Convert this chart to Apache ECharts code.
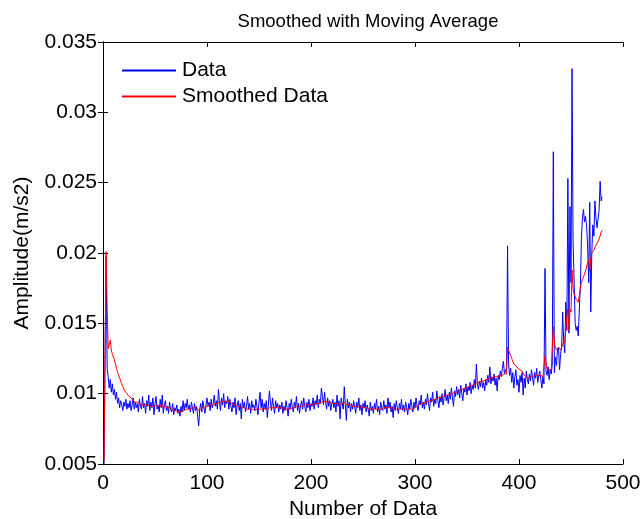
<!DOCTYPE html>
<html>
<head>
<meta charset="utf-8">
<script src="https://cdn.jsdelivr.net/npm/echarts@6/dist/echarts.min.js"></script>
<style>html,body{margin:0;padding:0;background:#fff;}#c{width:644px;height:519px;}</style>
</head>
<body>
<div id="c"></div>
<script>
var titleText = 'Smoothed with Moving Average';
var xName = 'Number of Data';
var yName = 'Amplitude(m/s2)';
var seriesNames = ['Data', 'Smoothed Data'];
var xTicks = [0, 100, 200, 300, 400, 500];
var yTicks = ['0.005', '0.01', '0.015', '0.02', '0.025', '0.03', '0.035'];

var rawData = [
0.0050,0.0128,0.0198,0.0118,0.0112,0.0104,0.0110,0.0101,0.0107,0.0099,
0.0103,0.0096,0.0101,0.0093,0.0097,0.0090,0.0095,0.0092,0.0088,0.0094,
0.0091,0.0096,0.0089,0.0093,0.0090,0.0095,0.0088,0.0092,0.0097,0.0089,
0.0094,0.0090,0.0093,0.0087,0.0096,0.0091,0.0089,0.0098,0.0090,0.0093,
0.0086,0.0095,0.0091,0.0099,0.0088,0.0094,0.0090,0.0097,0.0085,0.0093,
0.0098,0.0089,0.0092,0.0087,0.0096,0.0090,0.0099,0.0086,0.0092,0.0095,
0.0088,0.0091,0.0086,0.0094,0.0089,0.0087,0.0093,0.0085,0.0090,0.0088,
0.0092,0.0086,0.0089,0.0084,0.0091,0.0087,0.0095,0.0088,0.0093,0.0090,
0.0096,0.0089,0.0092,0.0087,0.0094,0.0090,0.0086,0.0093,0.0088,0.0091,
0.0084,0.0077,0.0089,0.0093,0.0087,0.0095,0.0090,0.0086,0.0092,0.0097,
0.0091,0.0094,0.0088,0.0096,0.0090,0.0093,0.0099,0.0091,0.0095,0.0089,
0.0103,0.0094,0.0088,0.0097,0.0092,0.0100,0.0090,0.0095,0.0093,0.0098,
0.0089,0.0096,0.0091,0.0087,0.0094,0.0090,0.0097,0.0085,0.0092,0.0095,
0.0088,0.0093,0.0082,0.0096,0.0090,0.0094,0.0087,0.0091,0.0098,0.0089,
0.0093,0.0086,0.0095,0.0090,0.0092,0.0088,0.0096,0.0091,0.0085,0.0094,
0.0101,0.0090,0.0096,0.0087,0.0093,0.0089,0.0095,0.0083,0.0092,0.0102,
0.0094,0.0088,0.0097,0.0091,0.0086,0.0095,0.0090,0.0093,0.0087,0.0092,
0.0089,0.0094,0.0086,0.0091,0.0088,0.0095,0.0090,0.0084,0.0093,0.0089,
0.0096,0.0091,0.0087,0.0094,0.0090,0.0098,0.0088,0.0093,0.0086,0.0092,
0.0095,0.0089,0.0097,0.0091,0.0087,0.0094,0.0090,0.0096,0.0088,0.0093,
0.0091,0.0097,0.0089,0.0095,0.0092,0.0099,0.0090,0.0096,0.0093,0.0104,
0.0098,0.0092,0.0101,0.0094,0.0089,0.0097,0.0091,0.0095,0.0088,0.0093,
0.0096,0.0090,0.0094,0.0087,0.0099,0.0091,0.0095,0.0082,0.0097,0.0093,
0.0089,0.0105,0.0092,0.0081,0.0096,0.0090,0.0094,0.0087,0.0093,0.0089,
0.0095,0.0091,0.0086,0.0094,0.0090,0.0097,0.0088,0.0092,0.0085,0.0093,
0.0090,0.0095,0.0087,0.0092,0.0089,0.0084,0.0094,0.0088,0.0091,0.0086,
0.0093,0.0089,0.0096,0.0087,0.0091,0.0085,0.0094,0.0090,0.0088,0.0095,
0.0089,0.0092,0.0086,0.0097,0.0090,0.0094,0.0087,0.0091,0.0083,0.0093,
0.0088,0.0095,0.0090,0.0086,0.0093,0.0089,0.0096,0.0088,0.0092,0.0087,
0.0094,0.0090,0.0085,0.0093,0.0089,0.0096,0.0091,0.0087,0.0094,0.0090,
0.0097,0.0091,0.0088,0.0095,0.0092,0.0099,0.0090,0.0094,0.0089,0.0096,
0.0092,0.0100,0.0093,0.0088,0.0097,0.0094,0.0101,0.0091,0.0096,0.0093,
0.0102,0.0095,0.0090,0.0098,0.0094,0.0100,0.0092,0.0097,0.0103,0.0095,
0.0099,0.0093,0.0101,0.0096,0.0104,0.0097,0.0091,0.0102,0.0098,0.0105,
0.0099,0.0103,0.0097,0.0106,0.0100,0.0095,0.0104,0.0101,0.0107,0.0099,
0.0105,0.0102,0.0108,0.0100,0.0106,0.0103,0.0110,0.0104,0.0121,0.0107,
0.0103,0.0109,0.0105,0.0111,0.0104,0.0108,0.0102,0.0110,0.0106,0.0113,
0.0108,0.0119,0.0107,0.0112,0.0109,0.0114,0.0106,0.0111,0.0102,0.0113,
0.0110,0.0116,0.0112,0.0118,0.0123,0.0114,0.0117,0.0115,0.0205,0.0121,
0.0113,0.0118,0.0108,0.0115,0.0104,0.0112,0.0117,0.0106,0.0110,0.0101,
0.0113,0.0108,0.0115,0.0099,0.0111,0.0104,0.0116,0.0110,0.0107,0.0114,
0.0109,0.0117,0.0112,0.0106,0.0115,0.0111,0.0118,0.0108,0.0113,0.0116,
0.0110,0.0104,0.0112,0.0107,0.0189,0.0116,0.0113,0.0119,0.0110,0.0117,
0.0114,0.0121,0.0272,0.0115,0.0126,0.0120,0.0131,0.0133,0.0117,0.0128,
0.0133,0.0158,0.0136,0.0129,0.0165,0.0145,0.0253,0.0143,0.0233,0.0179,
0.0331,0.0207,0.0180,0.0150,0.0145,0.0148,0.0141,0.0160,0.0176,0.0210,
0.0225,0.0231,0.0222,0.0226,0.0219,0.0205,0.0179,0.0236,0.0158,0.0200,
0.0220,0.0212,0.0237,0.0225,0.0218,0.0224,0.0230,0.0251,0.0237,0.0240
];

var smoothData = [
0.0052,0.0130,0.0201,0.0160,0.0132,0.0135,0.0138,0.0131,0.0128,0.0126,
0.0124,0.0121,0.0118,0.0115,0.0113,0.0111,0.0109,0.0107,0.0105,0.0104,
0.0102,0.0101,0.0100,0.0099,0.0098,0.0097,0.0097,0.0096,0.0095,0.0095,
0.0094,0.0094,0.0094,0.0093,0.0093,0.0093,0.0092,0.0093,0.0092,0.0092,
0.0092,0.0091,0.0092,0.0092,0.0091,0.0092,0.0091,0.0092,0.0091,0.0091,
0.0092,0.0091,0.0091,0.0090,0.0091,0.0091,0.0092,0.0090,0.0090,0.0091,
0.0090,0.0090,0.0089,0.0090,0.0089,0.0089,0.0089,0.0088,0.0088,0.0088,
0.0088,0.0087,0.0087,0.0087,0.0087,0.0087,0.0088,0.0088,0.0088,0.0089,
0.0089,0.0089,0.0090,0.0089,0.0090,0.0090,0.0089,0.0090,0.0090,0.0090,
0.0089,0.0088,0.0088,0.0089,0.0089,0.0090,0.0090,0.0090,0.0091,0.0091,
0.0091,0.0092,0.0091,0.0092,0.0092,0.0092,0.0093,0.0093,0.0093,0.0093,
0.0094,0.0094,0.0093,0.0094,0.0094,0.0095,0.0094,0.0094,0.0094,0.0095,
0.0094,0.0094,0.0093,0.0093,0.0093,0.0092,0.0092,0.0092,0.0091,0.0091,
0.0091,0.0091,0.0090,0.0090,0.0090,0.0090,0.0089,0.0089,0.0090,0.0089,
0.0089,0.0089,0.0089,0.0089,0.0089,0.0088,0.0089,0.0089,0.0088,0.0089,
0.0090,0.0089,0.0090,0.0089,0.0089,0.0089,0.0090,0.0089,0.0089,0.0090,
0.0090,0.0090,0.0090,0.0090,0.0090,0.0090,0.0090,0.0090,0.0090,0.0090,
0.0090,0.0090,0.0089,0.0089,0.0089,0.0089,0.0090,0.0089,0.0089,0.0089,
0.0090,0.0090,0.0090,0.0090,0.0090,0.0091,0.0091,0.0091,0.0091,0.0091,
0.0091,0.0091,0.0092,0.0092,0.0091,0.0092,0.0092,0.0092,0.0092,0.0092,
0.0092,0.0092,0.0092,0.0093,0.0093,0.0093,0.0093,0.0093,0.0093,0.0094,
0.0095,0.0094,0.0095,0.0095,0.0094,0.0094,0.0094,0.0094,0.0093,0.0093,
0.0094,0.0093,0.0093,0.0093,0.0093,0.0093,0.0093,0.0092,0.0093,0.0093,
0.0092,0.0094,0.0094,0.0092,0.0092,0.0092,0.0092,0.0092,0.0092,0.0091,
0.0091,0.0091,0.0091,0.0091,0.0091,0.0091,0.0091,0.0091,0.0090,0.0090,
0.0090,0.0090,0.0090,0.0090,0.0090,0.0089,0.0089,0.0089,0.0089,0.0089,
0.0089,0.0089,0.0090,0.0089,0.0089,0.0089,0.0089,0.0089,0.0089,0.0090,
0.0090,0.0090,0.0089,0.0090,0.0090,0.0090,0.0090,0.0090,0.0089,0.0089,
0.0089,0.0089,0.0089,0.0089,0.0089,0.0089,0.0089,0.0089,0.0089,0.0089,
0.0089,0.0089,0.0089,0.0089,0.0089,0.0089,0.0089,0.0089,0.0090,0.0090,
0.0091,0.0091,0.0091,0.0092,0.0092,0.0093,0.0093,0.0093,0.0093,0.0094,
0.0094,0.0094,0.0095,0.0095,0.0095,0.0095,0.0096,0.0096,0.0096,0.0096,
0.0097,0.0097,0.0097,0.0097,0.0097,0.0098,0.0098,0.0098,0.0099,0.0099,
0.0099,0.0099,0.0099,0.0100,0.0100,0.0100,0.0100,0.0101,0.0101,0.0101,
0.0102,0.0102,0.0102,0.0103,0.0103,0.0103,0.0103,0.0104,0.0104,0.0104,
0.0105,0.0105,0.0105,0.0106,0.0106,0.0106,0.0107,0.0107,0.0108,0.0108,
0.0108,0.0108,0.0109,0.0109,0.0109,0.0109,0.0110,0.0110,0.0110,0.0110,
0.0111,0.0111,0.0111,0.0111,0.0111,0.0112,0.0112,0.0112,0.0112,0.0112,
0.0112,0.0113,0.0113,0.0113,0.0114,0.0114,0.0114,0.0114,0.0133,0.0131,
0.0129,0.0127,0.0125,0.0123,0.0121,0.0120,0.0120,0.0119,0.0118,0.0117,
0.0117,0.0116,0.0116,0.0115,0.0113,0.0112,0.0112,0.0111,0.0111,0.0111,
0.0112,0.0112,0.0112,0.0113,0.0113,0.0113,0.0113,0.0113,0.0113,0.0113,
0.0113,0.0113,0.0112,0.0112,0.0127,0.0122,0.0118,0.0117,0.0117,0.0117,
0.0117,0.0117,0.0148,0.0136,0.0133,0.0131,0.0131,0.0133,0.0132,0.0131,
0.0130,0.0135,0.0138,0.0136,0.0145,0.0155,0.0160,0.0145,0.0160,0.0158,
0.0188,0.0174,0.0171,0.0169,0.0167,0.0166,0.0165,0.0170,0.0175,0.0179,
0.0181,0.0183,0.0185,0.0186,0.0190,0.0193,0.0195,0.0187,0.0196,0.0200,
0.0201,0.0202,0.0204,0.0205,0.0207,0.0208,0.0210,0.0212,0.0215,0.0216
];

function toPairs(arr) {
  var out = [];
  for (var i = 0; i < arr.length; i++) out.push([i + 1, arr[i]]);
  return out;
}

var FONT = 'Liberation Sans, Arial, Helvetica, sans-serif';
var chart = echarts.init(document.getElementById('c'), null, {renderer: 'canvas'});

var axisLineStyle = {show: true, lineStyle: {color: '#000', width: 1}};
var tickIn = {show: true, inside: true, length: 5, lineStyle: {color: '#000', width: 1}};

chart.setOption({
  animation: false,
  backgroundColor: '#fff',
  title: {
    text: titleText, left: 363, top: 7, textAlign: 'center',
    textStyle: {fontFamily: FONT, fontSize: 18.5, fontWeight: 'normal', color: '#000'}
  },
  legend: {
    data: [
      {name: seriesNames[0], icon: 'rect', itemStyle: {color: '#0000ff', borderWidth: 0, opacity: 1}},
      {name: seriesNames[1], icon: 'rect', itemStyle: {color: '#ff0000', borderWidth: 0, opacity: 1}}
    ],
    orient: 'vertical', left: 117, top: 55,
    itemWidth: 54, itemHeight: 2, itemGap: 5,
    textStyle: {fontFamily: FONT, fontSize: 21, color: '#000', padding: [0, 0, 0, 1]}
  },
  grid: {left: 103, right: 21, top: 42, bottom: 55, containLabel: false, outerBoundsMode: 'none'},
  xAxis: [{
    type: 'value', min: xTicks[0], max: xTicks[xTicks.length - 1], interval: 100,
    name: xName, nameLocation: 'middle', nameGap: 35,
    nameTextStyle: {fontFamily: FONT, fontSize: 21, color: '#000'},
    axisLine: axisLineStyle, axisTick: tickIn, splitLine: {show: false},
    axisLabel: {fontFamily: FONT, fontSize: 21, color: '#000', margin: 9}
  }, {
    type: 'value', position: 'top', min: xTicks[0], max: xTicks[xTicks.length - 1], interval: 100,
    axisLine: axisLineStyle, axisTick: tickIn, axisLabel: {show: false}, splitLine: {show: false}
  }],
  yAxis: [{
    type: 'value', min: 0.005, max: 0.035, interval: 0.005,
    name: yName, nameLocation: 'middle', nameGap: 70,
    nameTextStyle: {fontFamily: FONT, fontSize: 21, color: '#000'},
    axisLine: axisLineStyle, axisTick: tickIn, splitLine: {show: false},
    axisLabel: {
      fontFamily: FONT, fontSize: 21, color: '#000', margin: 6,
      formatter: function (v) {
        var idx = Math.round((v - 0.005) / 0.005);
        return yTicks[idx] !== undefined ? yTicks[idx] : '';
      }
    }
  }, {
    type: 'value', position: 'right', min: 0.005, max: 0.035, interval: 0.005,
    axisLine: axisLineStyle, axisTick: tickIn, axisLabel: {show: false}, splitLine: {show: false}
  }],
  series: [{
    name: seriesNames[0], type: 'line', data: toPairs(rawData),
    showSymbol: false, symbol: 'none',
    lineStyle: {color: '#0000ff', width: 1}, itemStyle: {color: '#0000ff'}
  }, {
    name: seriesNames[1], type: 'line', data: toPairs(smoothData),
    showSymbol: false, symbol: 'none',
    lineStyle: {color: '#ff0000', width: 1}, itemStyle: {color: '#ff0000'}
  }]
});
</script>
</body>
</html>
